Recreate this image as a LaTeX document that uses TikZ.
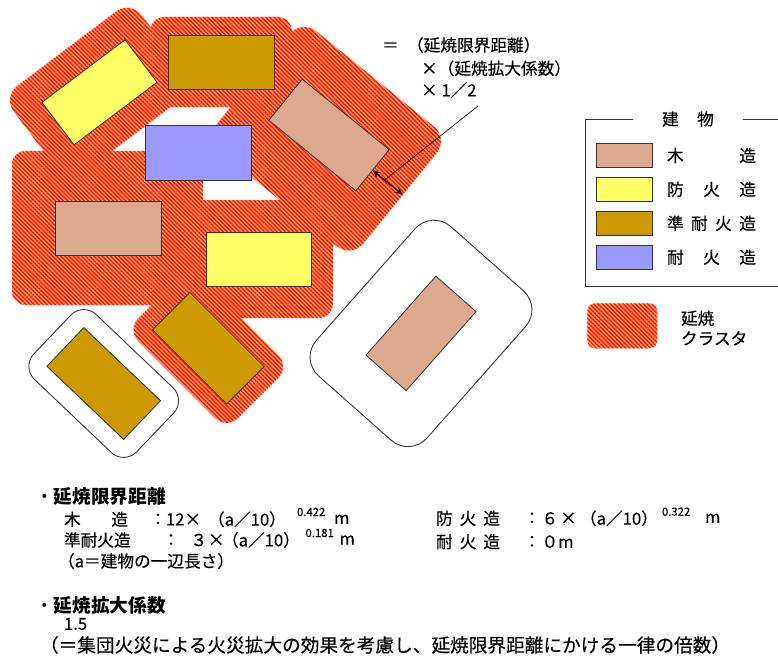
\documentclass[tikz,border=0pt]{standalone}
\usepackage{fontspec}
\setmainfont{Noto Sans CJK JP}
\newfontfamily\jpmed{Noto Sans CJK JP}[FakeBold=0.3]
\usetikzlibrary{patterns.meta,calc,arrows.meta}
\definecolor{wood}{RGB}{220,168,142}
\definecolor{fireY}{RGB}{255,255,102}
\definecolor{quasi}{RGB}{204,153,0}
\definecolor{fireB}{RGB}{153,153,255}
\definecolor{haloR}{RGB}{255,20,0}
\definecolor{haloO}{RGB}{255,165,110}
\begin{document}
\begin{tikzpicture}[x=0.75pt,y=-0.75pt,
  bldg/.style={draw=black!80,line width=0.6pt,inner sep=0pt,outer sep=0pt},
  halo/.style={inner sep=0pt,outer sep=0pt,preaction={fill=haloO},
    pattern={Lines[angle=-45,distance=2.2pt,line width=1.05pt]},pattern color=haloR},
  safe/.style={draw=black!80,line width=0.65pt,fill=white,inner sep=0pt,outer sep=0pt},
  sz/.style 2 args={minimum width=#1*0.75pt,minimum height=#2*0.75pt},
  txt/.style={inner sep=0pt,outer sep=0pt,font=\jpmed\fontsize{12.5}{15}\selectfont},
  head/.style={inner sep=0pt,outer sep=0pt,font=\fontsize{14}{16}\selectfont\bfseries},
  supx/.style={inner sep=0pt,outer sep=0pt,font=\jpmed\fontsize{8.5}{10}\selectfont},
  leader/.style={draw=black,line width=0.5pt},
  dimarrow/.style={draw=black,line width=0.9pt,{Stealth[length=6pt,width=5pt]}-{Stealth[length=6pt,width=5pt]}},
  frame/.style={draw=black!80,line width=0.6pt}
]
\fill[white] (0,0) rectangle (778,660);
\useasboundingbox (0,0) rectangle (778,660);

% ---- spread cluster halos ----
\node[halo,sz={160}{109},rounded corners=13.5pt,rotate=37] (hy1) at (99.5,92.3) {};
\node[halo,sz={142}{90},rounded corners=11pt] (hq1) at (221,62) {};
\node[halo,sz={189}{154},rounded corners=14pt,rotate=-39] (hw1) at (326.6,138.8) {};
\node[halo,sz={191}{154},rounded corners=10pt] (hw2) at (107.5,228) {};
\node[halo,sz={152}{118},rounded corners=11pt] (hy2) at (257,259) {};
\node[halo,sz={141}{89},rounded corners=12pt,rotate=-45] (hq2) at (208.3,348.2) {};

% ---- isolated buildings' zones ----
\node[safe,sz={142}{89.5},rounded corners=13.5pt,rotate=-43.6] (sq3) at (103.7,383.5) {};
\node[safe,sz={199.5}{147.6},rounded corners=19pt,rotate=48.5] (sw3) at (421,333.4) {};

% ---- buildings ----
\node[bldg,fill=fireY,sz={104}{53.3},rotate=37] (y1) at (99.5,92.3) {};
\node[bldg,fill=quasi,sz={105.7}{54.3}] (q1) at (221.2,62.2) {};
\node[bldg,fill=wood,sz={112}{53},rotate=-39] (w1) at (329,135) {};
\node[bldg,fill=fireB,sz={105.6}{54.3}] (b1) at (198.5,152.9) {};
\node[bldg,fill=wood,sz={106.7}{53.3}] (w2) at (108.3,228.3) {};
\node[bldg,fill=fireY,sz={105}{54}] (y2) at (259.2,259.7) {};
\node[bldg,fill=quasi,sz={105}{53},rotate=-45] (q2) at (208.3,348.2) {};
\node[bldg,fill=quasi,sz={106}{53.5},rotate=-43.6] (q3) at (103.7,383.5) {};
\node[bldg,fill=wood,sz={105.5}{53.6},rotate=48.5] (w3) at (421,333.4) {};

% ---- dimension arrow and annotation ----
\coordinate (arrEnd) at ($(w1.east)+(39:39)$);
\coordinate (arrMid) at ($(w1.east)!0.4!(arrEnd)$);
\coordinate (leadStart) at (478,106);
\draw[dimarrow] (w1.east) -- (arrEnd);
\draw[leader] (leadStart) -- (arrMid);
\node[txt,anchor=west] (ann1) at (382,45) {＝\hspace{0.5em}（延焼限界距離）};
\node[txt,anchor=west] (ann2) at (421,68.3) {×（延焼拡大係数）};
\node[txt,anchor=west] (ann3) at (421,90) {× 1／2};

% ---- legend ----
\draw[frame] (633,119) -- (585.7,119) -- (585.7,286.7) -- (778,286.7);
\draw[frame] (743,119) -- (778,119);
\node[txt] (ltitle) at (688,119) {建\hspace{1.1em}物};
\node[bldg,fill=wood,sz={56}{24.4}] (lw) at (624.7,155.5) {};
\node[bldg,fill=fireY,sz={56}{24}] (ly) at (624.7,189.3) {};
\node[bldg,fill=quasi,sz={56}{24.7}] (lq) at (624.7,223.3) {};
\node[bldg,fill=fireB,sz={56}{24.3}] (lb) at (624.7,257.2) {};
\node[txt,anchor=west] (lwt) at (667,155.5) {\makebox[66.75pt][s]{木\hfill 造}};
\node[txt,anchor=west] (lyt) at (667,189.3) {\makebox[66.75pt][s]{防\hfill 火\hfill 造}};
\node[txt,anchor=west] (lqt) at (667,223.3) {\makebox[66.75pt][s]{準\hfill 耐\hfill 火\hfill 造}};
\node[txt,anchor=west] (lbt) at (667,257.2) {\makebox[66.75pt][s]{耐\hfill 火\hfill 造}};
\node[halo,sz={70}{45},rounded corners=6pt] (lh) at (622.3,325.8) {};
\node[txt,anchor=west] (lht1) at (681,318.3) {延焼};
\node[txt,anchor=west] (lht2) at (681,338.3) {クラスタ};

% ---- notes ----
\node[head,anchor=west] (h1) at (35,496.7) {{\mdseries ・}延焼限界距離};
\node[txt,anchor=west] (a1) at (64,519.3) {\makebox[48pt][s]{木\hfill 造}};
\node[txt] (a2) at (158,519.3) {：};
\node[txt,anchor=west] (a3) at (166,519.3) {12×};
\node[txt,anchor=west] (a3b) at (208,519.3) {（a／10）};
\node[supx,anchor=west] (a4) at (297,512) {0.422};
\node[txt,anchor=west] (a5) at (334,519.3) {m};

\node[txt,anchor=west] (b1t) at (64,540) {準耐火造};
\node[txt] (b2) at (171,540) {：};
\node[txt,anchor=west] (b3) at (190.5,540) {３};
\node[txt,anchor=west] (b3a) at (208,540) {×};
\node[txt,anchor=west] (b3b) at (222,540) {（a／10）};
\node[supx,anchor=west] (b4) at (305.5,533) {0.181};
\node[txt,anchor=west] (b5) at (339.5,540) {m};

\node[txt,anchor=west] (c1) at (58,561) {（a＝建物の一辺長さ）};

\node[txt,anchor=west] (r1) at (436,518.3) {\makebox[48pt][s]{防\hfill 火\hfill 造}};
\node[txt] (r2) at (532,518.3) {：};
\node[txt,anchor=west] (r3) at (541.5,518.3) {６};
\node[txt,anchor=west] (r3a) at (560,518.3) {×};
\node[txt,anchor=west] (r3b) at (580,518.3) {（a／10）};
\node[supx,anchor=west] (r4) at (662,511.7) {0.322};
\node[txt,anchor=west] (r5) at (705,518.3) {m};

\node[txt,anchor=west] (s1) at (436,541.7) {\makebox[48pt][s]{耐\hfill 火\hfill 造}};
\node[txt] (s2) at (532,541.7) {：};
\node[txt,anchor=west] (s3) at (541.5,541.7) {０m};

\node[head,anchor=west] (h2) at (35,605) {{\mdseries ・}延焼拡大係数};
\node[txt,anchor=west] (k1) at (64,624) {1.5};
\node[txt,anchor=west,font=\jpmed\fontsize{14}{16}\selectfont] (k2) at (40,645) {（＝集団火災による火災拡大の効果を考慮し、延焼限界距離にかける一律の倍数）};
\end{tikzpicture}
\end{document}
